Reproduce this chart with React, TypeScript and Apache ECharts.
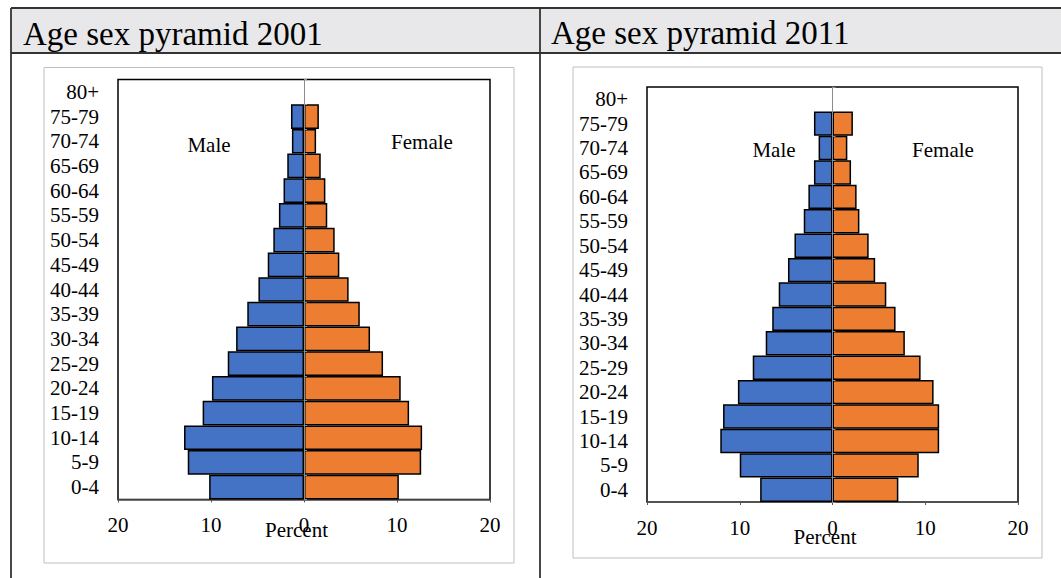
import React, { useEffect, useRef } from "react";
import * as echarts from "echarts";

const ageGroups = ["0-4", "5-9", "10-14", "15-19", "20-24", "25-29", "30-34", "35-39", "40-44", "45-49", "50-54", "55-59", "60-64", "65-69", "70-74", "75-79", "80+"];

const male2001 = [10.2, 12.5, 12.9, 10.9, 9.9, 8.2, 7.3, 6.1, 4.9, 3.9, 3.3, 2.7, 2.2, 1.8, 1.3, 1.4, 0];
const female2001 = [10.2, 12.6, 12.7, 11.3, 10.4, 8.5, 7.1, 6.0, 4.8, 3.8, 3.3, 2.5, 2.3, 1.8, 1.3, 1.6, 0];
const male2011 = [7.8, 10.0, 12.1, 11.8, 10.2, 8.6, 7.2, 6.5, 5.8, 4.8, 4.1, 3.1, 2.6, 2.0, 1.5, 2.0, 0];
const female2011 = [7.1, 9.3, 11.5, 11.5, 10.9, 9.5, 7.8, 6.8, 5.8, 4.6, 3.9, 2.9, 2.6, 2.0, 1.6, 2.2, 0];

const titles = ["Age sex pyramid 2001", "Age sex pyramid 2011"];
const sexLabels = ["Male", "Female"];
const axisName = "Percent";

const FONT = "Liberation Serif";
const MALE_COLOR = "#4472C4";
const FEMALE_COLOR = "#ED7D31";

export default function App() {
  const ref = useRef<HTMLDivElement>(null);

  useEffect(() => {
    const chart = echarts.init(ref.current!, null, { renderer: "svg" });

    const grids = [
      { left: 118, top: 79.5, width: 372, height: 420, nameGap: 19.5 },
      { left: 647, top: 87, width: 371, height: 415, nameGap: 24.5 },
    ];

    const xAxes = grids.map((g, i) => ({
      gridIndex: i,
      type: "value",
      min: -20,
      max: 20,
      interval: 10,
      axisLine: { show: true, onZero: false, lineStyle: { color: "#595959", width: 1.5 } },
      axisTick: { show: true, length: 3, lineStyle: { color: "#595959", width: 1 } },
      axisLabel: {
        formatter: (v: number) => String(Math.abs(v)),
        fontSize: 21,
        fontFamily: FONT,
        color: "#000",
        margin: 15,
      },
      splitLine: { show: false },
      name: axisName,
      nameLocation: "middle",
      nameGap: g.nameGap,
      nameMoveOverlap: false,
      nameTextStyle: { fontSize: 21, fontFamily: FONT, color: "#000", padding: [0, 15, 0, 0] },
    }));

    const yAxes: any[] = [];
    grids.forEach((g, i) => {
      yAxes.push({
        gridIndex: i,
        type: "category",
        data: ageGroups,
        position: "left",
        axisLine: { show: false, onZero: false },
        axisTick: { show: false },
        axisLabel: { interval: 0, fontSize: 21, fontFamily: FONT, color: "#000", margin: 19 },
        splitLine: { show: false },
      });
      yAxes.push({
        gridIndex: i,
        type: "category",
        data: ageGroups,
        z: 5,
        axisLine: { show: true, onZero: true, lineStyle: { color: "#8c8c8c", width: 1 } },
        axisTick: { show: true, interval: 0, length: 3, lineStyle: { color: "#8c8c8c", width: 1 } },
        axisLabel: { show: false },
        splitLine: { show: false },
      });
    });

    const makeSeries = (data: number[], sign: number, color: string, gi: number, name: string) => ({
      name,
      type: "bar",
      xAxisIndex: gi,
      yAxisIndex: gi * 2,
      data: data.map((v) => (v === 0 ? null : sign * v)),
      barGap: "-100%",
      barCategoryGap: "0%",
      itemStyle: { color, borderColor: "#000", borderWidth: 1.5 },
      emphasis: { disabled: true },
    });

    const series = [
      makeSeries(male2001, -1, MALE_COLOR, 0, "Male 2001"),
      makeSeries(female2001, 1, FEMALE_COLOR, 0, "Female 2001"),
      makeSeries(male2011, -1, MALE_COLOR, 1, "Male 2011"),
      makeSeries(female2011, 1, FEMALE_COLOR, 1, "Female 2011"),
    ];

    const lineStyle = { stroke: "#333", lineWidth: 1.8 };
    const textStyle = (text: string, size: number, align: string) => ({
      text,
      fontSize: size,
      fontFamily: FONT,
      fill: "#000",
      align,
      verticalAlign: "middle",
    });

    const graphic = [
      { type: "rect", shape: { x: 11, y: 8, width: 529, height: 45 }, style: { fill: "#e8e8ea" }, z: 0 },
      { type: "rect", shape: { x: 541, y: 8, width: 520, height: 45 }, style: { fill: "#e8e8ea" }, z: 0 },
      { type: "line", shape: { x1: 11, y1: 8, x2: 1061, y2: 8 }, style: lineStyle, z: 1 },
      { type: "line", shape: { x1: 11, y1: 53, x2: 1061, y2: 53 }, style: lineStyle, z: 1 },
      { type: "line", shape: { x1: 11, y1: 8, x2: 11, y2: 578 }, style: lineStyle, z: 1 },
      { type: "line", shape: { x1: 540, y1: 8, x2: 540, y2: 578 }, style: lineStyle, z: 1 },
      { type: "rect", shape: { x: 44, y: 67.5, width: 470, height: 495.5 }, style: { fill: "none", stroke: "#bfbfbf", lineWidth: 1 }, z: 1 },
      { type: "rect", shape: { x: 573, y: 67, width: 469, height: 491 }, style: { fill: "none", stroke: "#bfbfbf", lineWidth: 1 }, z: 1 },
      { type: "text", x: 23, y: 34, style: textStyle(titles[0], 33, "left"), z: 2 },
      { type: "text", x: 551, y: 33, style: textStyle(titles[1], 33, "left"), z: 2 },
      { type: "text", x: 209, y: 145, style: textStyle(sexLabels[0], 21, "center"), z: 2 },
      { type: "text", x: 422, y: 142, style: textStyle(sexLabels[1], 21, "center"), z: 2 },
      { type: "text", x: 774, y: 150, style: textStyle(sexLabels[0], 21, "center"), z: 2 },
      { type: "text", x: 943, y: 150, style: textStyle(sexLabels[1], 21, "center"), z: 2 },
    ];

    chart.setOption({
      animation: false,
      backgroundColor: "#fff",
      grid: grids.map((g) => ({
        left: g.left,
        top: g.top,
        width: g.width,
        height: g.height,
        show: true,
        borderColor: "#000",
        borderWidth: 1.5,
        backgroundColor: "transparent",
        containLabel: false,
      })),
      xAxis: xAxes,
      yAxis: yAxes,
      series,
      graphic,
    } as any);

    return () => chart.dispose();
  }, []);

  return (
    <div
      ref={ref}
      style={{ position: "fixed", left: 0, top: 0, width: 1061, height: 578, background: "#fff" }}
    />
  );
}
